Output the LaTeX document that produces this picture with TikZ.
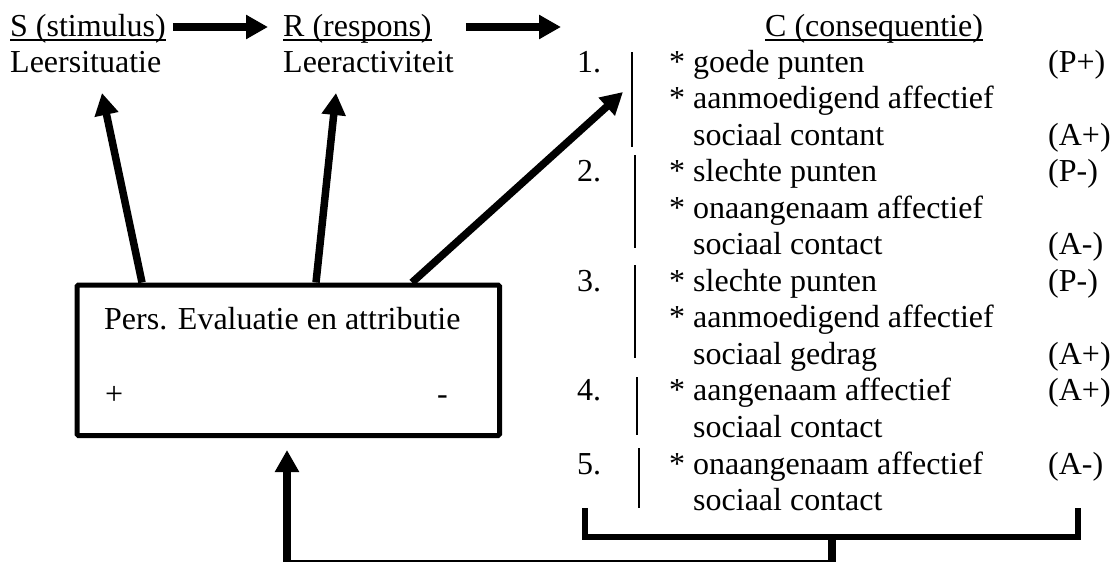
\documentclass[tikz,border=0pt]{standalone}
\usepackage{fontspec}
\setmainfont{Liberation Serif}
\usetikzlibrary{arrows.meta}
\begin{document}
\begin{tikzpicture}[x=1pt,y=-1pt,
  txt/.style={anchor=base west,inner sep=0pt,font=\fontsize{32}{36}\selectfont},
  bigarrow/.style={line width=7.5pt,-{Triangle[length=22pt,width=23pt]}},
  thinbar/.style={line width=2pt},
  brk/.style={line width=5.5pt},
  ul/.style={line width=1.6pt},
  boxstyle/.style={draw,line width=5pt,rounded corners=1.5pt,minimum width=422.5pt,minimum height=150.5pt,anchor=north west,inner sep=0pt}]
\useasboundingbox (0,0) rectangle (1112,562);
% header texts
\node[txt] (S1) at (10,36) {S (stimulus)};
\node[txt] (S2) at (10,72) {Leersituatie};
\node[txt] (R1) at (283,36) {R (respons)};
\node[txt] (R2) at (283,72) {Leeractiviteit};
\node[txt] (C) at (765,36) {C (consequentie)};
\draw[ul] ([yshift=-4pt]S1.base west) -- ([yshift=-4pt]S1.base east);
\draw[ul] ([yshift=-4pt]R1.base west) -- ([yshift=-4pt]R1.base east);
\draw[ul] ([yshift=-4pt]C.base west) -- ([yshift=-4pt]C.base east);
% top arrows
\coordinate (ctip) at (561,27);
\draw[bigarrow] ([xshift=7pt,yshift=9pt]S1.base east) -- ([xshift=-15pt,yshift=9pt]R1.base west);
\draw[bigarrow] ([xshift=34pt,yshift=9pt]R1.base east) -- (ctip);
% evaluation box
\node[boxstyle] (E) at (74.5,282.5) {};
\node[txt] (Et) at (104,329) {Pers. Evaluatie en attributie};
\node[txt] (Ep) at (105,404) {+};
\node[txt] (Em) at (437,404) {-};
\coordinate (t1) at (102,93);
\coordinate (t2) at (336,93);
\coordinate (t3) at (623,92);
\draw[bigarrow] ([xshift=67.5pt]E.north west) -- (t1);
\draw[bigarrow] ([xshift=241.5pt]E.north west) -- (t2);
\draw[bigarrow] ([xshift=337.5pt]E.north west) -- (t3);
% list
\node[txt] (n1) at (577,72) {1.};
\node[txt] (l1) at (669,72) {* goede punten};
\node[txt] (p1) at (1048,72) {(P+)};
\node[txt] (l2) at (669,108.55) {* aanmoedigend affectief};
\node[txt] (l3) at (693,145.1) {sociaal contant};
\node[txt] (p3) at (1048,145.1) {(A+)};
\node[txt] (n2) at (577,181.65) {2.};
\node[txt] (l4) at (669,181.65) {* slechte punten};
\node[txt] (p4) at (1048,181.65) {(P-)};
\node[txt] (l5) at (669,218.2) {* onaangenaam affectief};
\node[txt] (l6) at (693,254.75) {sociaal contact};
\node[txt] (p6) at (1048,254.75) {(A-)};
\node[txt] (n3) at (577,291.3) {3.};
\node[txt] (l7) at (669,291.3) {* slechte punten};
\node[txt] (p7) at (1048,291.3) {(P-)};
\node[txt] (l8) at (669,327.85) {* aanmoedigend affectief};
\node[txt] (l9) at (693,364.4) {sociaal gedrag};
\node[txt] (p9) at (1048,364.4) {(A+)};
\node[txt] (n4) at (577,400.95) {4.};
\node[txt] (l10) at (669,400.95) {* aangenaam affectief};
\node[txt] (p10) at (1048,400.95) {(A+)};
\node[txt] (l11) at (693,437.5) {sociaal contact};
\node[txt] (n5) at (577,474.05) {5.};
\node[txt] (l12) at (669,474.05) {* onaangenaam affectief};
\node[txt] (p12) at (1048,474.05) {(A-)};
\node[txt] (l13) at (693,510.6) {sociaal contact};
% thin separators
\draw[thinbar] (632,52) -- (632,146.5);
\draw[thinbar] (634.5,155) -- (634.5,248);
\draw[thinbar] (635,265) -- (635,358);
\draw[thinbar] (636.5,377) -- (636.5,435);
\draw[thinbar] (639,448) -- (639,508);
% bracket
\coordinate (bk1) at (585,508);
\coordinate (bk2) at (585,537);
\coordinate (bk3) at (1078,537);
\coordinate (bk4) at (1078,508);
\coordinate (bkm) at (832,537);
\draw[brk] (bk1) -- (bk2) -- (bk3) -- (bk4);
% feedback
\coordinate (fbR) at (832,564);
\coordinate (fbL) at (287,564);
\draw[bigarrow] (bkm) -- (fbR) -- (fbL) -- ([yshift=-12pt]E.south -| fbL);
\end{tikzpicture}
\end{document}
